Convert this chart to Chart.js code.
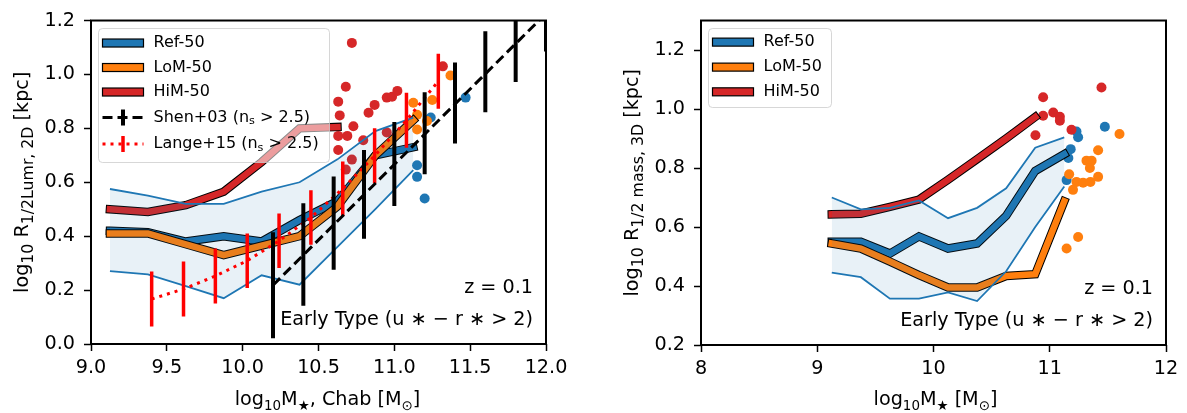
<!DOCTYPE html>
<html>
<head>
<meta charset="utf-8">
<script src="https://cdn.jsdelivr.net/npm/chart.js@4.4.0/dist/chart.umd.min.js"></script>
<style>
body { margin: 0; background: #fff; }
#wrap { position: relative; width: 1187px; height: 413px; }
canvas { position: absolute; top: 0; }
</style>
</head>
<body>
<div id="wrap">
<canvas id="leftChart" width="593" height="413" style="left:0px"></canvas>
<canvas id="rightChart" width="594" height="413" style="left:593px"></canvas>
</div>
<script>
// ====== Mass bins ======
const massBins = [9.125, 9.375, 9.625, 9.875, 10.125, 10.375, 10.625, 10.875, 11.125];
const himBins2D = [9.125, 9.375, 9.625, 9.875, 10.125, 10.375, 10.625];
const himBins3D = [9.125, 9.375, 9.625, 9.875, 10.125, 10.375, 10.625, 10.875];

// ====== Left panel: R1/2 luminosity r-band, 2D ======
const refMed2D = [0.42, 0.415, 0.38, 0.40, 0.38, 0.46, 0.53, 0.70, 0.73];
const lomMed2D = [0.41, 0.41, 0.37, 0.33, 0.365, 0.40, 0.51, 0.70, 0.83];
const himMed2D = [0.50, 0.49, 0.515, 0.565, 0.675, 0.80, 0.805];
const refHi2D = [0.575, 0.55, 0.52, 0.52, 0.565, 0.60, 0.685, 0.79, 0.84];
const refLo2D = [0.27, 0.258, 0.215, 0.17, 0.255, 0.22, 0.36, 0.50, 0.645];

const himDotX2D = [10.72, 10.68, 10.63, 10.64, 10.73, 10.83, 10.87, 10.95, 10.985, 11.02, 10.63, 10.69, 10.63, 10.795, 10.72, 10.95, 11.32, 10.68];
const himDotY2D = [1.117, 0.954, 0.899, 0.848, 0.808, 0.858, 0.887, 0.914, 0.917, 0.939, 0.772, 0.772, 0.72, 0.756, 0.684, 0.785, 1.03, 0.647];
const lomDotX2D = [11.125, 11.25, 11.15, 11.215, 11.15, 11.37];
const lomDotY2D = [0.895, 0.905, 0.85, 0.827, 0.796, 0.996];
const refDotX2D = [11.24, 11.15, 11.15, 11.2, 11.47];
const refDotY2D = [0.84, 0.663, 0.62, 0.54, 0.914];

// Shen+03 (n_s > 2.5)
const shenX = [10.2, 10.4, 10.6, 10.8, 11.0, 11.2, 11.4, 11.6, 11.8, 12.0];
const shenR = [0.218, 0.332, 0.448, 0.555, 0.668, 0.782, 0.894, 1.01, 1.12, 1.226];
const shenErr = [0.197, 0.19, 0.173, 0.165, 0.156, 0.152, 0.15, 0.15, 0.148, 0.141];
const shenFitX = [10.2, 12.0];
const shenFitY = [0.218, 1.226];

// Lange+15 (n_s > 2.5)
const langeX = [9.40, 9.61, 9.82, 10.03, 10.24, 10.45, 10.66, 10.87, 11.08, 11.29];
const langeR = [0.167, 0.204, 0.252, 0.309, 0.383, 0.469, 0.576, 0.698, 0.83, 0.975];
const langeErr = [0.102, 0.102, 0.102, 0.101, 0.101, 0.101, 0.101, 0.102, 0.102, 0.102];

// ====== Right panel: R1/2 mass, 3D ======
const refMed3D = [0.55, 0.55, 0.51, 0.568, 0.527, 0.544, 0.638, 0.79, 0.847];
const lomMed3D = [0.544, 0.527, 0.483, 0.437, 0.395, 0.395, 0.434, 0.44, 0.687];
const himMed3D = [0.643, 0.645, 0.668, 0.693, 0.76, 0.83, 0.90, 0.973];
const refHi3D = [0.70, 0.66, 0.665, 0.69, 0.63, 0.665, 0.731, 0.869, 0.904];
const refLo3D = [0.445, 0.43, 0.357, 0.357, 0.378, 0.349, 0.45, 0.60, 0.737];

const himDotX3D = [10.943, 10.943, 11.03, 11.087, 11.087, 10.877, 11.187, 11.445];
const himDotY3D = [1.04, 0.977, 0.988, 0.974, 0.96, 0.911, 0.93, 1.073];
const refDotX3D = [11.23, 11.244, 11.18, 11.16, 11.145, 11.474];
const refDotY3D = [0.924, 0.904, 0.864, 0.834, 0.759, 0.94];
const lomDotX3D = [11.60, 11.416, 11.316, 11.36, 11.345, 11.167, 11.23, 11.287, 11.35, 11.416, 11.2, 11.145, 11.244];
const lomDotY3D = [0.915, 0.86, 0.825, 0.825, 0.80, 0.779, 0.753, 0.75, 0.753, 0.77, 0.726, 0.527, 0.566];

// ====== Tick labels ======
const xTicks2D = [9.0, 9.5, 10.0, 10.5, 11.0, 11.5, 12.0];
const yTicks2D = [0.0, 0.2, 0.4, 0.6, 0.8, 1.0, 1.2];
const xTicks3D = [8, 9, 10, 11, 12];
const yTicks3D = [0.2, 0.4, 0.6, 0.8, 1.0, 1.2];

// ====== helpers ======
const BLUE = '#1f77b4', ORANGE = '#ff7f0e', RED = '#d62728';
const FONT = 'DejaVu Sans';
const FS = 19.2;     // ticks, labels, notes
const LFS = 16;      // legend

function pts(xs, ys) { return xs.map((x, i) => ({ x: x, y: ys[i] })); }
function errBars(xs, ys, err) {
    const out = [];
    xs.forEach((x, i) => {
        out.push({ x: x, y: ys[i] - err[i] }, { x: x, y: ys[i] + err[i] }, { x: x, y: null });
    });
    return out;
}
function median(xs, ys, color, order) {
    return [
        { data: pts(xs, ys), borderColor: '#000', borderWidth: 8.5, borderCapStyle: 'square', borderJoinStyle: 'miter', order: order + 0.05 },
        { data: pts(xs, ys), borderColor: color, borderWidth: 6.5, borderCapStyle: 'square', borderJoinStyle: 'miter', order: order }
    ];
}
function band(xs, hi, lo) {
    return [
        { data: pts(xs, hi), borderColor: BLUE, borderWidth: 1.8, fill: '+1', backgroundColor: 'rgba(31,119,180,0.1)', order: 2 },
        { data: pts(xs, lo), borderColor: BLUE, borderWidth: 1.8, order: 2 }
    ];
}
function dots(xs, ys, color) {
    return { data: pts(xs, ys), showLine: false, pointRadius: 5, pointBackgroundColor: color, pointBorderWidth: 0, order: 5 };
}

function drawRich(ctx, parts, x, y, size, align, subRatio) {
    const sub = size * (subRatio || 0.7);
    let w = 0;
    parts.forEach(p => { ctx.font = (p[1] ? sub : size) + 'px "' + FONT + '"'; w += ctx.measureText(p[0]).width; });
    let cx = align === 'center' ? x - w / 2 : (align === 'right' ? x - w : x);
    ctx.textAlign = 'left';
    parts.forEach(p => {
        ctx.font = (p[1] ? sub : size) + 'px "' + FONT + '"';
        ctx.fillText(p[0], cx, p[1] ? y + size * 0.24 : y);
        cx += ctx.measureText(p[0]).width;
    });
}

const decorPlugin = {
    id: 'decor',
    afterDatasetsDraw(chart, args, o) {
        const { ctx, chartArea: a } = chart;
        ctx.save();
        ctx.strokeStyle = '#000';
        ctx.lineWidth = 2;
        ctx.strokeRect(a.left, a.top, a.right - a.left, a.bottom - a.top);
        ctx.restore();
    },
    afterDraw(chart, args, o) {
        const { ctx, chartArea: a } = chart;
        ctx.save();
        ctx.fillStyle = '#000';
        ctx.textBaseline = 'alphabetic';
        drawRich(ctx, o.xTitle, (a.left + a.right) / 2 + o.xTitleDx, 405, FS, 'center', 0.7);
        ctx.save();
        ctx.translate(o.yTitleX, (a.top + a.bottom) / 2);
        ctx.rotate(-Math.PI / 2);
        drawRich(ctx, o.yTitle, 0, 0, FS, 'center', 0.82);
        ctx.restore();

        ctx.textBaseline = 'middle';
        drawRich(ctx, [['z = 0.1']], a.right - 13, a.bottom - 56, FS, 'right');
        drawRich(ctx, [['Early Type (u \u2217 \u2212 r \u2217 > 2)']], a.right - 13, a.bottom - 24, FS, 'right');

        // legend box
        const lg = o.legend;
        const bx = a.left + 7.5, by = a.top + 8;
        ctx.beginPath();
        ctx.roundRect(bx, by, lg.w, lg.h, 4);
        ctx.fillStyle = 'rgba(255,255,255,0.55)';
        ctx.fill();
        ctx.strokeStyle = 'rgba(204,204,204,0.8)';
        ctx.lineWidth = 1;
        ctx.stroke();
        lg.items.forEach((it, i) => {
            const y = by + lg.rows[i];
            const hx = bx + 4, hw = 41;
            if (it.kind === 'patch') {
                ctx.fillStyle = it.color;
                ctx.fillRect(hx, y - 4, hw, 8);
                ctx.strokeStyle = '#000';
                ctx.lineWidth = 1.2;
                ctx.strokeRect(hx, y - 4, hw, 8);
            } else {
                ctx.strokeStyle = it.color;
                ctx.lineWidth = 3;
                ctx.setLineDash(it.dash);
                ctx.beginPath();
                ctx.moveTo(hx, y);
                ctx.lineTo(hx + hw, y);
                ctx.stroke();
                ctx.setLineDash([]);
                ctx.lineWidth = it.bw;
                ctx.beginPath();
                ctx.moveTo(hx + hw / 2, y - 8);
                ctx.lineTo(hx + hw / 2, y + 8);
                ctx.stroke();
            }
            ctx.fillStyle = '#000';
            drawRich(ctx, it.text, bx + 55, y, LFS, 'left');
        });
        ctx.restore();
    }
};

function xScale(min, max, ticks, dec, h) {
    return {
        type: 'linear', min: min, max: max,
        afterBuildTicks: ax => { ax.ticks = ticks.map(v => ({ value: v })); },
        afterFit: ax => { ax.height = h; },
        ticks: { callback: v => v.toFixed(dec), font: { family: FONT, size: FS }, color: '#000', padding: 5, maxRotation: 0, autoSkip: false },
        grid: { display: true, drawOnChartArea: false, drawTicks: true, tickLength: 7, tickWidth: 1.5, tickColor: '#000' },
        border: { display: false }
    };
}
function yScale(min, max, ticks, w) {
    return {
        type: 'linear', min: min, max: max,
        afterBuildTicks: ax => { ax.ticks = ticks.map(v => ({ value: v })); },
        afterFit: ax => { ax.width = w; },
        ticks: { callback: v => v.toFixed(1), font: { family: FONT, size: FS }, color: '#000', padding: 9, autoSkip: false },
        grid: { display: true, drawOnChartArea: false, drawTicks: true, tickLength: 7, tickWidth: 1.5, tickColor: '#000' },
        border: { display: false }
    };
}

const refItems = [
    { kind: 'patch', color: BLUE, text: [['Ref-50']] },
    { kind: 'patch', color: ORANGE, text: [['LoM-50']] },
    { kind: 'patch', color: RED, text: [['HiM-50']] }
];

// ====== Left chart ======
const leftSets = [
    { data: errBars(shenX, shenR, shenErr), borderColor: '#000', borderWidth: 4, order: 1 },
    { data: pts(shenFitX, shenFitY), borderColor: '#000', borderWidth: 3, borderDash: [10, 5], order: 1 },
    { data: errBars(langeX, langeR, langeErr), borderColor: '#ff0000', borderWidth: 3.5, order: 1 },
    { data: pts(langeX, langeR), borderColor: '#ff0000', borderWidth: 3, borderDash: [3, 5], order: 1 },
    ...band(massBins, refHi2D, refLo2D),
    ...median(himBins2D, himMed2D, RED, 3.1),
    ...median(massBins, lomMed2D, ORANGE, 3.3),
    ...median(massBins, refMed2D, BLUE, 3.5),
    dots(himDotX2D, himDotY2D, RED),
    dots(lomDotX2D, lomDotY2D, ORANGE),
    dots(refDotX2D, refDotY2D, BLUE)
];

new Chart(document.getElementById('leftChart'), {
    type: 'line',
    data: { datasets: leftSets },
    options: {
        responsive: false, animation: false, devicePixelRatio: 1,
        elements: { point: { radius: 0 }, line: { tension: 0 } },
        layout: { padding: { left: 0, right: 47, top: 13, bottom: 0 } },
        plugins: {
            legend: { display: false }, tooltip: { enabled: false },
            decor: {
                xTitle: [['log'], ['10', true], ['M'], ['\u2605', true], [', Chab [M'], ['\u2299', true], [']']],
                xTitleDx: 9,
                yTitle: [['log'], ['10', true], [' R'], ['1/2Lumr, 2D', true], [' [kpc]']],
                yTitleX: 28,
                legend: {
                    w: 231, h: 134,
                    rows: [14.5, 39, 63.5, 89, 115.5],
                    items: refItems.concat([
                        { kind: 'err', color: '#000', dash: [10, 5], bw: 4, text: [['Shen+03 (n'], ['s', true], [' > 2.5)']] },
                        { kind: 'err', color: '#ff0000', dash: [3, 5], bw: 3.5, text: [['Lange+15 (n'], ['s', true], [' > 2.5)']] }
                    ])
                }
            }
        },
        scales: { x: xScale(9, 12, xTicks2D, 1, 69), y: yScale(0, 1.2, yTicks2D, 91) }
    },
    plugins: [decorPlugin]
});

// ====== Right chart ======
const rightSets = [
    ...band(massBins, refHi3D, refLo3D),
    ...median(himBins3D, himMed3D, RED, 3.1),
    ...median(massBins, lomMed3D, ORANGE, 3.3),
    ...median(massBins, refMed3D, BLUE, 3.5),
    dots(himDotX3D, himDotY3D, RED),
    dots(lomDotX3D, lomDotY3D, ORANGE),
    dots(refDotX3D, refDotY3D, BLUE)
];

new Chart(document.getElementById('rightChart'), {
    type: 'line',
    data: { datasets: rightSets },
    options: {
        responsive: false, animation: false, devicePixelRatio: 1,
        elements: { point: { radius: 0 }, line: { tension: 0 } },
        layout: { padding: { left: 0, right: 21, top: 12, bottom: 0 } },
        plugins: {
            legend: { display: false }, tooltip: { enabled: false },
            decor: {
                xTitle: [['log'], ['10', true], ['M'], ['\u2605', true], [' [M'], ['\u2299', true], [']']],
                xTitleDx: 2,
                yTitle: [['log'], ['10', true], [' R'], ['1/2 mass, 3D', true], [' [kpc]']],
                yTitleX: 45,
                legend: { w: 123, h: 79, rows: [13.6, 38.6, 63.3], items: refItems }
            }
        },
        scales: { x: xScale(8, 12, xTicks3D, 0, 68), y: yScale(0.2, 1.3, yTicks3D, 108) }
    },
    plugins: [decorPlugin]
});
</script>
</body>
</html>
